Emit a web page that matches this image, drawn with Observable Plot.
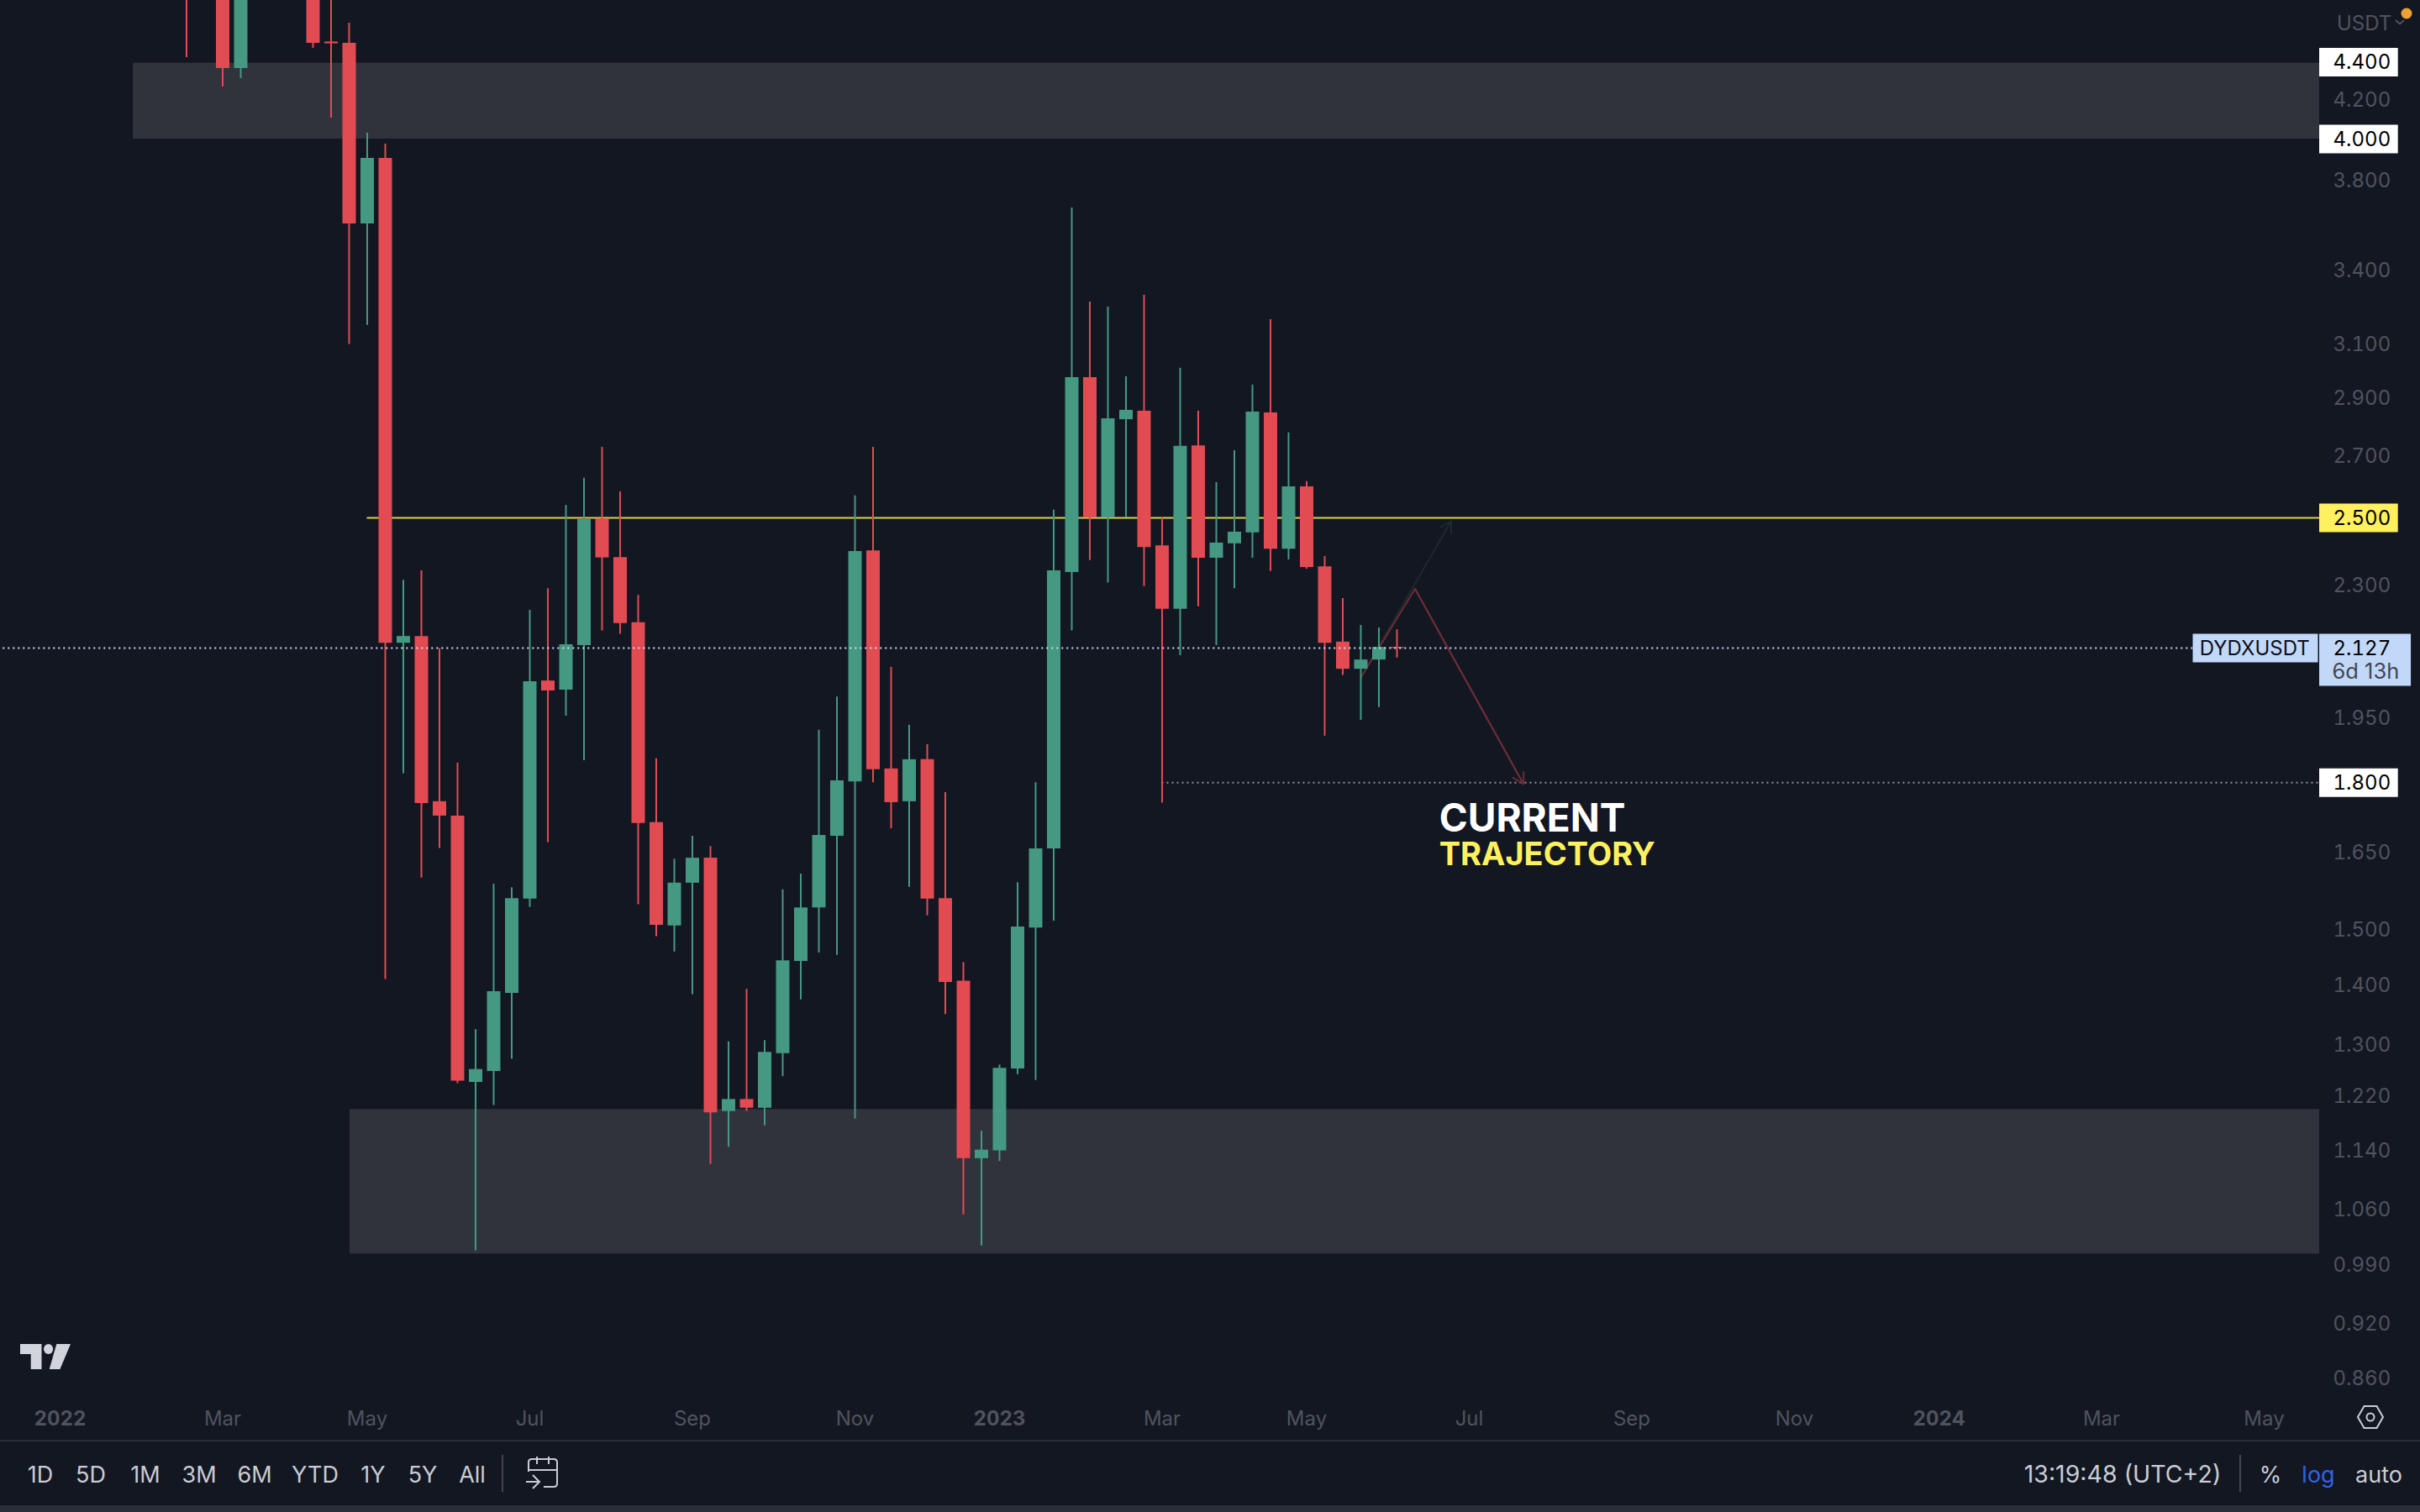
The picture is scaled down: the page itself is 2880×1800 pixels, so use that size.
<!doctype html>
<html>
<head>
<meta charset="utf-8">
<script src="https://cdn.jsdelivr.net/npm/d3@7"></script>
<script src="https://cdn.jsdelivr.net/npm/@observablehq/plot@0.6"></script>
<style>
html,body{margin:0;padding:0;background:#131722}
#page{position:relative;width:2880px;height:1800px;overflow:hidden;background:#131722;font-family:Inter,sans-serif}
#chart svg{display:block}
.t{position:absolute;top:1755px;transform:translate(-50%,-50%);font-size:27px;color:#c9ccd4;white-space:nowrap;line-height:1}
.sep{position:absolute;top:1732px;width:2px;height:44px;background:#434651}
#line{position:absolute;left:0;top:1714px;width:2880px;height:2px;background:#2a2e39}
#stripe{position:absolute;left:0;top:1792px;width:2880px;height:8px;background:#2a2e39}
svg.ic{position:absolute;left:0;top:0;pointer-events:none}
</style>
</head>
<body>
<div id="page">
<div id="chart"></div>
<div id="line"></div>
<div id="stripe"></div>
<div class="sep" style="left:597px"></div>
<div class="sep" style="left:2665px"></div>
<div id="bar"></div>
<svg class="ic" width="2880" height="1800" fill="none">
  <path d="M24 1600H49.5V1630H36.7V1612H24Z" fill="#d1d4dc"/>
  <ellipse cx="57.6" cy="1606" rx="5.6" ry="6" fill="#d1d4dc"/>
  <path d="M67.3 1600H84L71.4 1630H58.7Z" fill="#d1d4dc"/>
  <path d="M629 1752V1741Q629 1737 633 1737H659Q663 1737 663 1741V1766Q663 1770 659 1770H647M629 1750H663M639 1734V1743M653 1734V1743M626 1764H641M634 1756L642 1764L634 1772" stroke="#c9ccd4" stroke-width="2"/>
  <path d="M2806 1687L2813.5 1674H2828.5L2836 1687L2828.5 1700H2813.5Z" stroke="#c9ccd4" stroke-width="2"/>
  <circle cx="2821" cy="1687" r="4.5" stroke="#c9ccd4" stroke-width="2"/>
  <path d="M2851 24L2856 28.500L2861 24" stroke="#50535e" stroke-width="2"/>
  <circle cx="2864" cy="16" r="6.500" fill="#f0a033"/>
</svg>
</div>
<script>
const weeks = ["2022-02-21","2022-03-07","2022-03-14","2022-04-11","2022-04-18","2022-04-25","2022-05-02","2022-05-09","2022-05-16","2022-05-23","2022-05-30","2022-06-06","2022-06-13","2022-06-20","2022-06-27","2022-07-04","2022-07-11","2022-07-18","2022-07-25","2022-08-01","2022-08-08","2022-08-15","2022-08-22","2022-08-29","2022-09-05","2022-09-12","2022-09-19","2022-09-26","2022-10-03","2022-10-10","2022-10-17","2022-10-24","2022-10-31","2022-11-07","2022-11-14","2022-11-21","2022-11-28","2022-12-05","2022-12-12","2022-12-19","2022-12-26","2023-01-02","2023-01-09","2023-01-16","2023-01-23","2023-01-30","2023-02-06","2023-02-13","2023-02-20","2023-02-27","2023-03-06","2023-03-13","2023-03-20","2023-03-27","2023-04-03","2023-04-10","2023-04-17","2023-04-24","2023-05-01","2023-05-08","2023-05-15","2023-05-22","2023-05-29","2023-06-05"];
const open = [4.953,5.057,4.366,5.057,4.512,4.505,3.600,3.905,2.140,2.158,1.758,1.727,1.241,1.258,1.386,1.558,2.042,2.019,2.134,2.497,2.380,2.195,1.713,1.507,1.589,1.639,1.197,1.215,1.202,1.286,1.442,1.541,1.684,1.802,2.400,1.831,1.758,1.852,1.559,1.407,1.129,1.140,1.262,1.503,1.658,2.336,2.975,2.500,2.824,2.854,2.415,2.232,2.734,2.378,2.421,2.454,2.848,2.405,2.598,2.353,2.143,2.072,2.096,2.129];
const high = [5.057,5.218,5.164,5.218,4.851,4.619,4.029,3.975,2.314,2.341,2.126,1.844,1.325,1.587,1.580,2.229,2.290,2.539,2.626,2.729,2.582,2.271,1.854,1.637,1.684,1.663,1.305,1.393,1.307,1.576,1.607,1.921,2.002,2.569,2.729,2.077,1.933,1.887,1.778,1.440,1.168,1.268,1.590,1.800,2.524,3.672,3.268,3.247,2.978,3.295,2.500,3.010,2.854,2.612,2.717,2.948,3.197,2.778,2.615,2.383,2.262,2.188,2.181,2.176];
const low = [4.426,4.268,4.312,4.477,4.106,3.100,3.175,1.410,1.820,1.599,1.659,1.239,1.007,1.206,1.277,1.542,1.671,1.955,1.850,2.173,2.164,1.547,1.487,1.459,1.384,1.121,1.145,1.197,1.176,1.250,1.375,1.457,1.453,1.186,1.800,1.700,1.581,1.526,1.350,1.053,1.013,1.125,1.253,1.244,1.516,2.173,2.371,2.306,2.500,2.296,1.755,2.107,2.239,2.134,2.290,2.378,2.339,2.373,2.346,1.907,2.056,1.945,1.976,2.101];
const close = [4.851,4.366,5.005,4.505,4.502,3.600,3.905,2.140,2.158,1.754,1.727,1.243,1.261,1.389,1.559,2.040,2.017,2.136,2.495,2.379,2.193,1.711,1.508,1.589,1.639,1.195,1.215,1.202,1.288,1.443,1.541,1.686,1.804,2.398,1.829,1.756,1.852,1.558,1.405,1.129,1.141,1.263,1.505,1.658,2.341,2.975,2.500,2.827,2.857,2.410,2.232,2.732,2.378,2.423,2.456,2.851,2.405,2.598,2.351,2.140,2.072,2.096,2.129,2.126];

const axisPrices = [4.2,3.8,3.4,3.1,2.9,2.7,2.3,1.95,1.65,1.5,1.4,1.3,1.22,1.14,1.06,0.99,0.92,0.86];
const whiteLevels = [4.4,4.0,1.8];
const yellowLevel = [2.5];
const lastPrice = [2.127];
const monthTicks = ["2022-03-07","2022-05-02","2022-07-04","2022-09-05","2022-11-07","2023-03-06","2023-05-01","2023-07-03","2023-09-04","2023-11-06","2024-03-04","2024-05-06"];
const yearTicks = ["2022-01-03","2023-01-02","2024-01-01"];
const bandStarts = ["2022-01-31T08:00:00Z","2022-04-25T08:00:00Z"];
const bandLows = [4.0,1.003];
const bandHighs = [4.395,1.2];
const upDates = ["2023-05-22","2023-06-26"];
const upPrices = [2.051,2.49];
const downDates = ["2023-05-22","2023-06-12","2023-07-24"];
const downPrices = [2.051,2.289,1.797];
const leftSymbols = ["1D","5D","1M","3M","6M","YTD","1Y","5Y","All"];
const leftCentres = [48,108,173,237,303,375,444,503,562];
const rightLabels = [["13:19:48 (UTC+2)",2526,"#c9ccd4",28.5],["%",2702,"#c9ccd4",27],["log",2759,"#2f62e8",27],["auto",2831,"#c9ccd4",27]];

const D = s => new Date(s + (s.length === 10 ? "T00:00:00Z" : ""));
const candles = weeks.map((w,i)=>({date:D(w),open:open[i],high:high[i],low:low[i],close:close[i]}));
const bands = bandStarts.map((s,i)=>({start:D(s),low:bandLows[i],high:bandHighs[i]}));
const up = candles.filter(d=>d.close>=d.open), down = candles.filter(d=>d.close<d.open);
const GREEN="#459882", RED="#e24b52", BAND="#30333c", YEL="#d9cd55", GREY="#50535e";
const chartEnd = D("2024-05-27T12:00:00Z"), chartStart = D("2021-12-10");
const tagEnd = D("2024-06-27"), priceTagEnd = D("2024-07-02"), symbolStart = D("2024-04-08T12:00:00Z"), symbolEnd = D("2024-05-27");
const fmt = d3.format(".3f"), F = "Inter";
const axisBase = {anchor:"right",tickSize:0,tickPadding:16,fontSize:24,fontFamily:F,tickFormat:fmt,label:null,dy:0.5};

const fig = Plot.plot({
  width:2880,height:1715,marginLeft:0,marginRight:120,marginTop:0,marginBottom:50,
  style:{background:"transparent",fontFamily:F},
  x:{type:"utc",domain:[D("2022-01-03"),D("2023-06-05")],range:[71,1662]},
  y:{type:"log",domain:[4,1.8],range:[165,931.2]},
  marks:[
    Plot.rect(bands,{x1:"start",x2:()=>chartEnd,y1:"low",y2:"high",fill:BAND}),
    Plot.ruleY(yellowLevel,{x1:()=>D("2022-05-02"),x2:()=>chartEnd,stroke:YEL,strokeWidth:2}),
    Plot.ruleY([1.8],{x1:()=>D("2023-03-06"),x2:()=>chartEnd,stroke:"#8f929b",strokeWidth:2,strokeDasharray:"2 4"}),
    Plot.arrow([{x1:D(upDates[0]),y1:upPrices[0],x2:D(upDates[1]),y2:upPrices[1]}],{x1:"x1",y1:"y1",x2:"x2",y2:"y2",stroke:"#1c2a2b",strokeWidth:2,headLength:11,bend:0}),
    Plot.line(downDates.map((d,i)=>({d:D(d),p:downPrices[i]})),{x:"d",y:"p",stroke:"#6b2c36",strokeWidth:2,curve:"linear"}),
    Plot.arrow([{x1:D(downDates[1]),y1:downPrices[1],x2:D(downDates[2]),y2:downPrices[2]}],{x1:"x1",y1:"y1",x2:"x2",y2:"y2",stroke:"#6b2c36",strokeWidth:2,headLength:11,bend:0}),
    Plot.ruleX(up,{x:"date",y1:"low",y2:"high",stroke:GREEN,strokeWidth:2}),
    Plot.ruleX(down,{x:"date",y1:"low",y2:"high",stroke:RED,strokeWidth:2}),
    Plot.ruleX(up,{x:"date",y1:"open",y2:"close",stroke:GREEN,strokeWidth:16}),
    Plot.ruleX(down,{x:"date",y1:"open",y2:"close",stroke:RED,strokeWidth:16}),
    Plot.ruleY(lastPrice,{x1:()=>chartStart,x2:()=>symbolStart,stroke:"#cddcf5",strokeWidth:2,strokeDasharray:"2 4"}),
    Plot.ruleY(whiteLevels,{x1:()=>chartEnd,x2:()=>tagEnd,stroke:"#ffffff",strokeWidth:34}),
    Plot.ruleY(yellowLevel,{x1:()=>chartEnd,x2:()=>tagEnd,stroke:"#fff05f",strokeWidth:34}),
    Plot.ruleY(lastPrice,{x1:()=>symbolStart,x2:()=>symbolEnd,stroke:"#c2d8f8",strokeWidth:34}),
    Plot.ruleY([2.096],{x1:()=>chartEnd,x2:()=>priceTagEnd,stroke:"#c2d8f8",strokeWidth:62}),
    Plot.axisY(axisPrices,{...axisBase,color:GREY}),
    Plot.axisY(whiteLevels.concat(yellowLevel,lastPrice),{...axisBase,color:"#000"}),
    Plot.text(["6d 13h"],{x:()=>D("2024-06-02"),y:()=>2.068,textAnchor:"start",dx:-2,dy:1,fill:"#434651",fontSize:25.5,fontFamily:F}),
    Plot.text(["DYDXUSDT"],{x:()=>D("2024-05-03"),y:()=>2.127,dx:-2,dy:1,fill:"#0d1018",fontSize:24,fontFamily:F}),
    Plot.text(["CURRENT"],{x:()=>D("2023-06-22"),y:()=>1.7195,textAnchor:"start",dx:-2,fill:"#ffffff",fontSize:46,fontWeight:700,fontFamily:F}),
    Plot.text(["TRAJECTORY"],{x:()=>D("2023-06-22"),y:()=>1.646,textAnchor:"start",dx:-2,fill:"#fff05f",fontSize:38,fontWeight:700,fontFamily:F}),
    Plot.axisX(monthTicks.map(D),{anchor:"bottom",tickSize:0,tickPadding:14,fontSize:24,fontFamily:F,color:GREY,tickFormat:d3.utcFormat("%b"),label:null}),
    Plot.axisX(yearTicks.map(D),{anchor:"bottom",tickSize:0,tickPadding:14,fontSize:24,fontWeight:700,fontFamily:F,color:GREY,tickFormat:d3.utcFormat("%Y"),label:null})
  ]
});
document.getElementById("chart").appendChild(fig);

const bar = document.getElementById("bar");
const add = (txt,x,col,size)=>{const s=document.createElement("span");s.className="t";s.textContent=txt;s.style.left=x+"px";if(col)s.style.color=col;if(size)s.style.fontSize=size+"px";bar.appendChild(s);};
leftSymbols.forEach((s,i)=>add(s,leftCentres[i]));
rightLabels.forEach(r=>add(r[0],r[1],r[2],r[3]));
const u=document.createElement("span");u.textContent="USDT";u.style.cssText="position:absolute;left:2781px;top:28px;transform:translateY(-50%);font-size:24px;line-height:1;color:#50535e";bar.appendChild(u);
</script>
</body>
</html>
